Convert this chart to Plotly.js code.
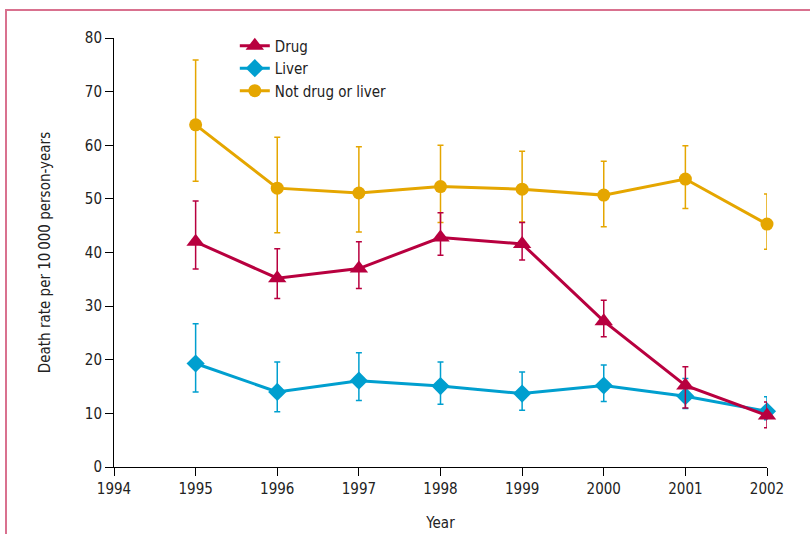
<!DOCTYPE html>
<html>
<head>
<meta charset="utf-8">
<script src="https://cdn.plot.ly/plotly-3.0.1.min.js"></script>
<style>
  html, body { margin: 0; padding: 0; background: #fff; }
  #wrap { position: relative; width: 810px; height: 534px; overflow: hidden; }
  #chart { width: 810px; height: 534px; }
  #frame {
    position: absolute; left: 5px; top: 9px; right: -4px; bottom: -4px;
    border-top: 2px solid #d9718f; border-left: 2px solid #d9718f;
    pointer-events: none;
  }
</style>
</head>
<body>
<div id="wrap">
  <div id="chart"></div>
  <div id="frame"></div>
</div>
<script>
// Death rates per 10 000 person-years, with 95% CI bounds
const years = [1995, 1996, 1997, 1998, 1999, 2000, 2001, 2002];

const drugRate  = [42.0, 35.2, 37.0, 42.8, 41.6, 27.2, 15.2, 9.6];
const drugUpper = [49.6, 40.7, 42.0, 47.4, 45.6, 31.1, 18.7, 12.1];
const drugLower = [36.9, 31.4, 33.3, 39.5, 38.6, 24.3, 11.0, 7.3];

const liverRate  = [19.3, 14.0, 16.1, 15.1, 13.7, 15.2, 13.2, 10.4];
const liverUpper = [26.7, 19.6, 21.3, 19.6, 17.7, 19.0, 16.5, 13.1];
const liverLower = [14.0, 10.3, 12.4, 11.7, 10.6, 12.2, 10.9, 8.8];

const otherRate  = [63.8, 52.0, 51.1, 52.3, 51.8, 50.7, 53.7, 45.3];
const otherUpper = [75.9, 61.5, 59.7, 60.0, 58.9, 57.0, 59.9, 50.9];
const otherLower = [53.3, 43.7, 43.8, 45.6, 45.7, 44.8, 48.2, 40.6];

const xTicks = [1994, 1995, 1996, 1997, 1998, 1999, 2000, 2001, 2002];
const yTicks = [0, 10, 20, 30, 40, 50, 60, 70, 80];

const FONT = '"DejaVu Sans Condensed", "DejaVu Sans", sans-serif';

function series(name, rate, upper, lower, color, symbol, size, rank) {
  return {
    type: 'scatter',
    mode: 'lines+markers',
    name: name,
    x: years,
    y: rate,
    legendrank: rank,
    cliponaxis: false,
    line: { color: color, width: 3 },
    marker: { color: color, symbol: symbol, size: size },
    error_y: {
      type: 'data',
      symmetric: false,
      array: upper.map((u, i) => u - rate[i]),
      arrayminus: rate.map((r, i) => r - lower[i]),
      color: color,
      thickness: 1.5,
      width: 3
    }
  };
}

const traces = [
  series('Not drug or liver', otherRate, otherUpper, otherLower, '#e5a600', 'circle', 13, 3),
  series('Liver', liverRate, liverUpper, liverLower, '#009fcf', 'diamond', 14, 2),
  series('Drug', drugRate, drugUpper, drugLower, '#b8003f', 'triangle-up', 16, 1)
];

const layout = {
  width: 810,
  height: 534,
  margin: { l: 114, r: 43, t: 38, b: 67 },
  paper_bgcolor: '#fff',
  plot_bgcolor: '#fff',
  font: { family: FONT, size: 15, color: '#222' },
  showlegend: true,
  legend: {
    x: 0.185, y: 1.02, xanchor: 'left', yanchor: 'top',
    bgcolor: 'rgba(0,0,0,0)',
    font: { family: FONT, size: 15, color: '#222' },
    tracegroupgap: 0
  },
  xaxis: {
    range: [1994, 2002],
    tickvals: xTicks,
    ticktext: xTicks.map(String),
    ticks: 'outside', ticklen: 8, tickwidth: 1, tickcolor: '#000',
    showline: true, linecolor: '#000', linewidth: 1,
    showgrid: false, zeroline: false,
    tickfont: { family: FONT, size: 15, color: '#222' },
    title: { text: 'Year', font: { family: FONT, size: 15, color: '#222' }, standoff: 20 }
  },
  yaxis: {
    range: [0, 80],
    tickvals: yTicks,
    ticks: 'outside', ticklen: 8, tickwidth: 1, tickcolor: '#000',
    showline: true, linecolor: '#000', linewidth: 1,
    showgrid: false, zeroline: false,
    tickfont: { family: FONT, size: 15, color: '#222' },
    title: { text: 'Death rate per 10\u2009000 person-years', font: { family: FONT, size: 15, color: '#222' }, standoff: 30 }
  }
};

Plotly.newPlot('chart', traces, layout, { displayModeBar: false, staticPlot: true });
</script>
</body>
</html>
